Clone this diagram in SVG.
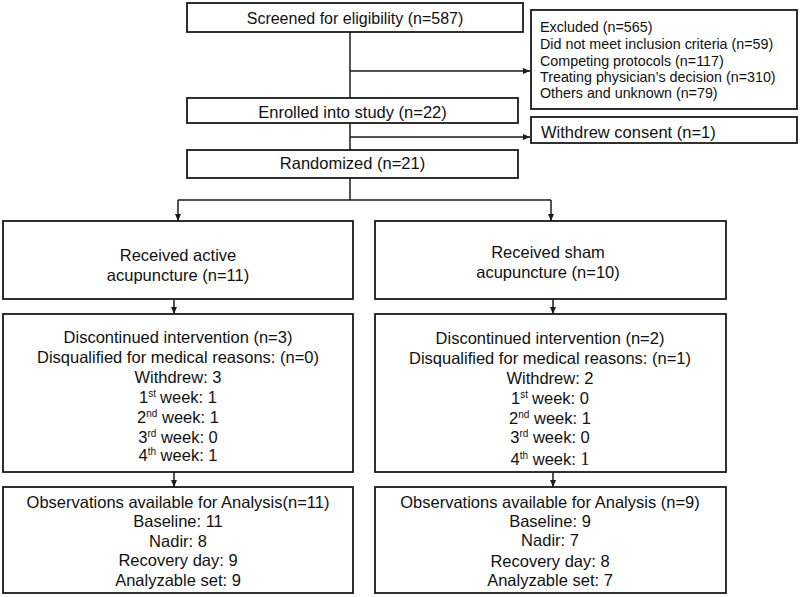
<svg xmlns="http://www.w3.org/2000/svg" width="800" height="597" viewBox="0 0 800 597">
<defs>
<marker id="ah" markerWidth="8" markerHeight="8" refX="7" refY="4" orient="auto" markerUnits="userSpaceOnUse">
<path d="M0,1 L7,4 L0,7 Z" fill="#1a1a1a"/>
</marker>
<style>
.box{fill:#fff;stroke:#1a1a1a;stroke-width:1.8}
.t{font-family:"Liberation Sans",Arial,sans-serif;font-size:16.5px;fill:#111;text-anchor:middle}
.ts{font-family:"Liberation Sans",Arial,sans-serif;font-size:14.3px;fill:#111}
.sup{font-size:10px}
.c{fill:none;stroke:#1a1a1a;stroke-width:1.5}
.serif{font-family:"Liberation Serif","Times New Roman",serif}
</style>
</defs>
<rect width="800" height="597" fill="#fff"/>
<g id="connectors">
<line class="c" x1="350" y1="32" x2="350" y2="98"/>
<line class="c" x1="350" y1="123" x2="350" y2="150"/>
<line class="c" x1="350" y1="71" x2="530" y2="71" marker-end="url(#ah)"/>
<line class="c" x1="350" y1="137" x2="530" y2="137" marker-end="url(#ah)"/>
<line class="c" x1="350" y1="178" x2="350" y2="200"/>
<line class="c" x1="178" y1="200" x2="551" y2="200"/>
<line class="c" x1="178" y1="200" x2="178" y2="221" marker-end="url(#ah)"/>
<line class="c" x1="551" y1="200" x2="551" y2="221" marker-end="url(#ah)"/>
<line class="c" x1="174" y1="299" x2="174" y2="314" marker-end="url(#ah)"/>
<line class="c" x1="553" y1="299" x2="553" y2="314" marker-end="url(#ah)"/>
<line class="c" x1="174" y1="472" x2="174" y2="487" marker-end="url(#ah)"/>
<line class="c" x1="553" y1="472" x2="553" y2="487" marker-end="url(#ah)"/>
</g>
<g id="screened">
<rect class="box" x="187" y="3" width="336" height="29"/>
<text class="t" x="355" y="24" style="font-size:16px">Screened for eligibility (n=587)</text>
</g>
<g id="excluded">
<rect class="box" x="531" y="10" width="266" height="99"/>
<text class="ts" x="540" y="32">Excluded (n=565)</text>
<text class="ts" x="540" y="49">Did not meet inclusion criteria (n=59)</text>
<text class="ts" x="540" y="65.5">Competing protocols (n=117)</text>
<text class="ts" x="540" y="82">Treating physician’s decision (n=310)</text>
<text class="ts" x="540" y="98">Others and unknown (n=79)</text>
</g>
<g id="enrolled">
<rect class="box" x="187" y="98" width="331" height="25"/>
<text class="t" x="352.5" y="118">Enrolled into study (n=22)</text>
</g>
<g id="withdrew">
<rect class="box" x="531" y="117" width="266" height="26"/>
<text class="t" x="541" y="138" style="text-anchor:start">Withdrew consent (n=1)</text>
</g>
<g id="randomized">
<rect class="box" x="187" y="150" width="331" height="28"/>
<text class="t" x="352.5" y="169">Randomized (n=21)</text>
</g>
<g id="active">
<rect class="box" x="3" y="221" width="350" height="78"/>
<text class="t" x="178" y="261">Received active</text>
<text class="t" x="178" y="281">acupuncture (n=11)</text>
</g>
<g id="sham">
<rect class="box" x="375" y="221" width="351" height="78"/>
<text class="t" x="548" y="258">Received sham</text>
<text class="t" x="548" y="278">acupuncture (n=10)</text>
</g>
<g id="disc-active">
<rect class="box" x="3" y="314" width="350" height="158"/>
<text class="t" x="178" y="343">Discontinued intervention (n=3)</text>
<text class="t" x="178" y="363">Disqualified for medical reasons: (n=0)</text>
<text class="t" x="178" y="383">Withdrew: 3</text>
<text class="t" x="178" y="403">1<tspan class="sup" dy="-6">st</tspan><tspan dy="6" dx="4">week: 1</tspan></text>
<text class="t" x="178" y="423">2<tspan class="sup" dy="-6">nd</tspan><tspan dy="6"> week: 1</tspan></text>
<text class="t" x="178" y="443">3<tspan class="sup" dy="-6">rd</tspan><tspan dy="6"> week: 0</tspan></text>
<text class="t" x="178" y="461">4<tspan class="sup" dy="-6">th</tspan><tspan dy="6"> week: 1</tspan></text>
</g>
<g id="disc-sham">
<rect class="box" x="375" y="314" width="351" height="158"/>
<text class="t" x="550" y="344">Discontinued intervention (n=2)</text>
<text class="t" x="550" y="364">Disqualified for medical reasons: (n=1)</text>
<text class="t" x="550" y="384">Withdrew: 2</text>
<text class="t" x="550" y="404">1<tspan class="sup" dy="-6">st</tspan><tspan dy="6" dx="4">week: 0</tspan></text>
<text class="t" x="550" y="424">2<tspan class="sup" dy="-6">nd</tspan><tspan dy="6"> week: 1</tspan></text>
<text class="t" x="550" y="443">3<tspan class="sup" dy="-6">rd</tspan><tspan dy="6"> week: 0</tspan></text>
<text class="t" x="550" y="465">4<tspan class="sup" dy="-6">th</tspan><tspan dy="6"> week: </tspan><tspan class="serif" style="font-size:18px">1</tspan></text>
</g>
<g id="obs-active">
<rect class="box" x="3" y="487" width="350" height="106"/>
<text class="t" x="178" y="508">Observations available for Analysis(n=11)</text>
<text class="t" x="178" y="527">Baseline: 11</text>
<text class="t" x="178" y="547">Nadir: 8</text>
<text class="t" x="178" y="566">Recovery day: 9</text>
<text class="t" x="178" y="586">Analyzable set: 9</text>
</g>
<g id="obs-sham">
<rect class="box" x="375" y="487" width="351" height="106"/>
<text class="t" x="550" y="508">Observations available for Analysis (n=9)</text>
<text class="t" x="550" y="527">Baseline: 9</text>
<text class="t" x="550" y="546">Nadir: 7</text>
<text class="t" x="550" y="567">Recovery day: 8</text>
<text class="t" x="550" y="586">Analyzable set: 7</text>
</g>
</svg>
